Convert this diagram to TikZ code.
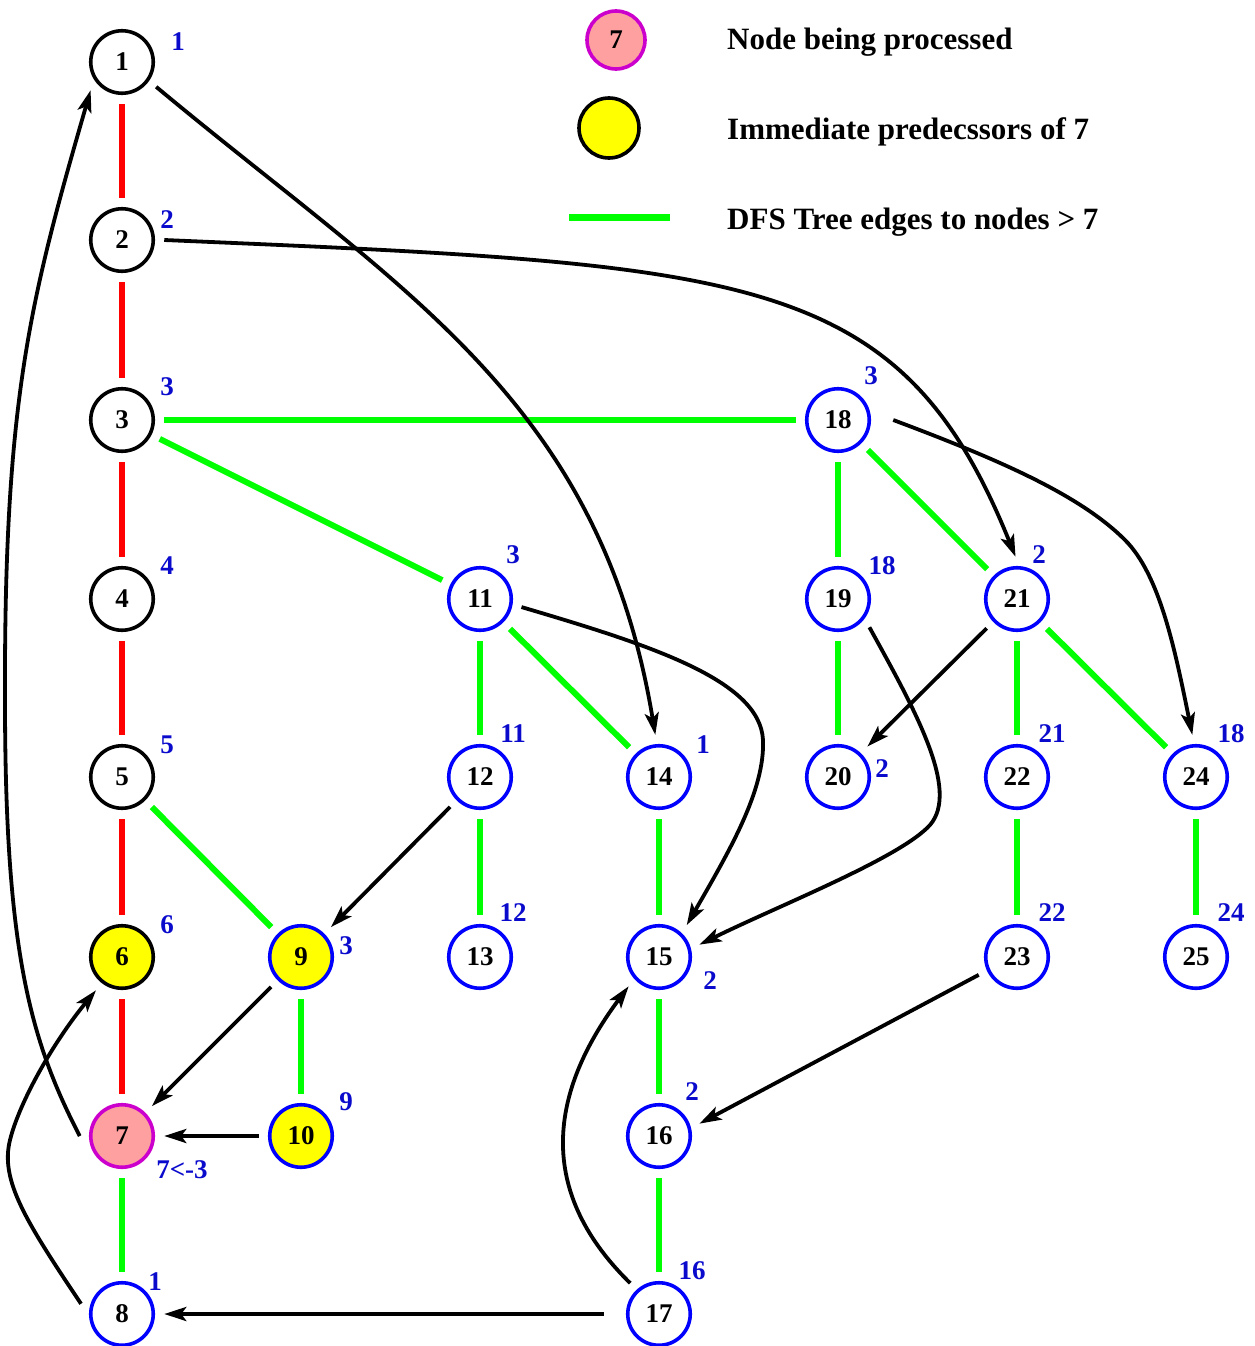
\documentclass[tikz,border=0pt]{standalone}
\usepackage{fontspec}
\setmainfont{Liberation Serif}
\usetikzlibrary{arrows.meta}
\definecolor{treered}{RGB}{255,0,0}
\definecolor{treegreen}{RGB}{0,255,0}
\definecolor{nodeblue}{RGB}{0,0,255}
\definecolor{rankblue}{RGB}{10,10,205}
\definecolor{curfill}{RGB}{255,160,160}
\definecolor{curdraw}{RGB}{204,0,204}
\definecolor{predfill}{RGB}{255,255,0}
\tikzset{
  vtx/.style={circle, minimum size=62.5pt, inner sep=0pt, line width=3.6pt,
    outer sep=11pt, font=\bfseries\fontsize{27}{27}\selectfont},
  visited/.style={vtx, draw=black},
  fresh/.style={vtx, draw=nodeblue},
  predk/.style={vtx, draw=black, fill=predfill},
  predb/.style={vtx, draw=nodeblue, fill=predfill},
  current/.style={vtx, draw=curdraw, fill=curfill},
  rank/.style={inner sep=0pt, text=rankblue, font=\bfseries\fontsize{27}{27}\selectfont},
  redtree/.style={draw=treered, line width=6pt},
  greentree/.style={draw=treegreen, line width=6pt},
  backarc/.style={draw=black, line width=3.8pt,
    -{Stealth[length=22pt, width=14pt, inset=5pt]}},
  legendtext/.style={anchor=base west, inner sep=0pt, font=\bfseries\fontsize{31}{31}\selectfont}
}
\begin{document}
\begin{tikzpicture}[x=1pt, y=-1pt]
\useasboundingbox (0,0) rectangle (1254,1346);

% vertices
\node[visited] (n1) at (122,62) {1};
\node[visited] (n2) at (122,240) {2};
\node[visited] (n3) at (122,420) {3};
\node[visited] (n4) at (122,599) {4};
\node[visited] (n5) at (122,777) {5};
\node[predk]   (n6) at (122,957) {6};
\node[current] (n7) at (122,1136) {7};
\node[fresh]   (n8) at (122,1314) {8};
\node[predb]   (n9) at (301,957) {9};
\node[predb]   (n10) at (301,1136) {10};
\node[fresh]   (n11) at (480,599) {11};
\node[fresh]   (n12) at (480,777) {12};
\node[fresh]   (n13) at (480,957) {13};
\node[fresh]   (n14) at (659,777) {14};
\node[fresh]   (n15) at (659,957) {15};
\node[fresh]   (n16) at (659,1136) {16};
\node[fresh]   (n17) at (659,1314) {17};
\node[fresh]   (n18) at (838,420) {18};
\node[fresh]   (n19) at (838,599) {19};
\node[fresh]   (n20) at (838,777) {20};
\node[fresh]   (n21) at (1017,599) {21};
\node[fresh]   (n22) at (1017,777) {22};
\node[fresh]   (n23) at (1017,957) {23};
\node[fresh]   (n24) at (1196,777) {24};
\node[fresh]   (n25) at (1196,957) {25};

% low-point labels
\node[rank] (r1) at (178,42) {1};
\node[rank] (r2) at (167,220) {2};
\node[rank] (r3) at (167,387) {3};
\node[rank] (r4) at (167,566) {4};
\node[rank] (r5) at (167,745) {5};
\node[rank] (r6) at (167,925) {6};
\node[rank] (r7) at (182,1170) {7<-3};
\node[rank] (r8) at (155,1282) {1};
\node[rank] (r9) at (346,946) {3};
\node[rank] (r10) at (346,1102) {9};
\node[rank] (r11) at (513,555) {3};
\node[rank] (r12) at (513,734) {11};
\node[rank] (r13) at (513,913) {12};
\node[rank] (r14) at (703,745) {1};
\node[rank] (r15) at (710,981) {2};
\node[rank] (r16) at (692,1092) {2};
\node[rank] (r17) at (692,1271) {16};
\node[rank] (r18) at (871,376) {3};
\node[rank] (r19) at (882,566) {18};
\node[rank] (r20) at (882,769) {2};
\node[rank] (r21) at (1039,555) {2};
\node[rank] (r22) at (1052,734) {21};
\node[rank] (r23) at (1052,913) {22};
\node[rank] (r24) at (1231,734) {18};
\node[rank] (r25) at (1231,913) {24};

% DFS tree edges along the current path
\draw[redtree] (n1) -- (n2);
\draw[redtree] (n2) -- (n3);
\draw[redtree] (n3) -- (n4);
\draw[redtree] (n4) -- (n5);
\draw[redtree] (n5) -- (n6);
\draw[redtree] (n6) -- (n7);

% DFS tree edges to nodes > 7
\draw[greentree] (n3) -- (n18);
\draw[greentree] (n3) -- (n11);
\draw[greentree] (n5) -- (n9);
\draw[greentree] (n7) -- (n8);
\draw[greentree] (n9) -- (n10);
\draw[greentree] (n11) -- (n12);
\draw[greentree] (n11) -- (n14);
\draw[greentree] (n12) -- (n13);
\draw[greentree] (n14) -- (n15);
\draw[greentree] (n15) -- (n16);
\draw[greentree] (n16) -- (n17);
\draw[greentree] (n18) -- (n19);
\draw[greentree] (n18) -- (n21);
\draw[greentree] (n19) -- (n20);
\draw[greentree] (n21) -- (n22);
\draw[greentree] (n21) -- (n24);
\draw[greentree] (n22) -- (n23);
\draw[greentree] (n24) -- (n25);

% remaining arcs
\draw[backarc] (n7.west) .. controls (30,1040) and (5,950) .. (5,700)
  .. controls (4,400) and (30,300) .. (n1.222);
\draw[backarc] (n8.166) .. controls (25,1220) and (0,1180) .. (10,1140)
  .. controls (20,1100) and (55,1040) .. (n6.232);
\draw[backarc] (n1.324) .. controls (400,290) and (600,400) .. (n14.95);
\draw[backarc] (n2.east) .. controls (750,265) and (900,270) .. (n21.92);
\draw[backarc] ([xshift=13pt]n18.east) .. controls (1000,460) and (1080,495) .. (1125,540)
  .. controls (1160,575) and (1175,650) .. (n24.95);
\draw[backarc] (n11.349) .. controls (650,645) and (760,680) .. (763,740)
  .. controls (765,790) and (730,850) .. (n15.49);
\draw[backarc] (n19.318) .. controls (915,710) and (960,790) .. (930,825)
  .. controls (900,858) and (780,905) .. (n15.17);
\draw[backarc] (n21.224) -- (n20.46);
\draw[backarc] (n12.225) -- (n9.45);
\draw[backarc] (n9.225) -- (n7.45);
\draw[backarc] (n10.west) -- (n7.east);
\draw[backarc] (n23.205) -- (n16.17);
\draw[backarc] ([xshift=-13pt]n17.west) -- (n8.east);
\draw[backarc] (n17.133) .. controls (530,1185) and (555,1085) .. (n15.224);

% legend
\node[vtx, draw=curdraw, fill=curfill, minimum size=58pt, outer sep=0pt] (lgcur) at (616,40) {7};
\node[vtx, draw=black, fill=predfill, minimum size=60pt, outer sep=0pt] (lgpred) at (609,128) {};
\coordinate (lgA) at (569,217);
\coordinate (lgB) at (670,217);
\draw[draw=treegreen, line width=7pt] (lgA) -- (lgB);
\node[legendtext] (t1) at (727,50) {Node being processed};
\node[legendtext] (t2) at (727,139) {Immediate predecssors of 7};
\node[legendtext] (t3) at (727,229) {DFS Tree edges to nodes > 7};
\end{tikzpicture}
\end{document}
